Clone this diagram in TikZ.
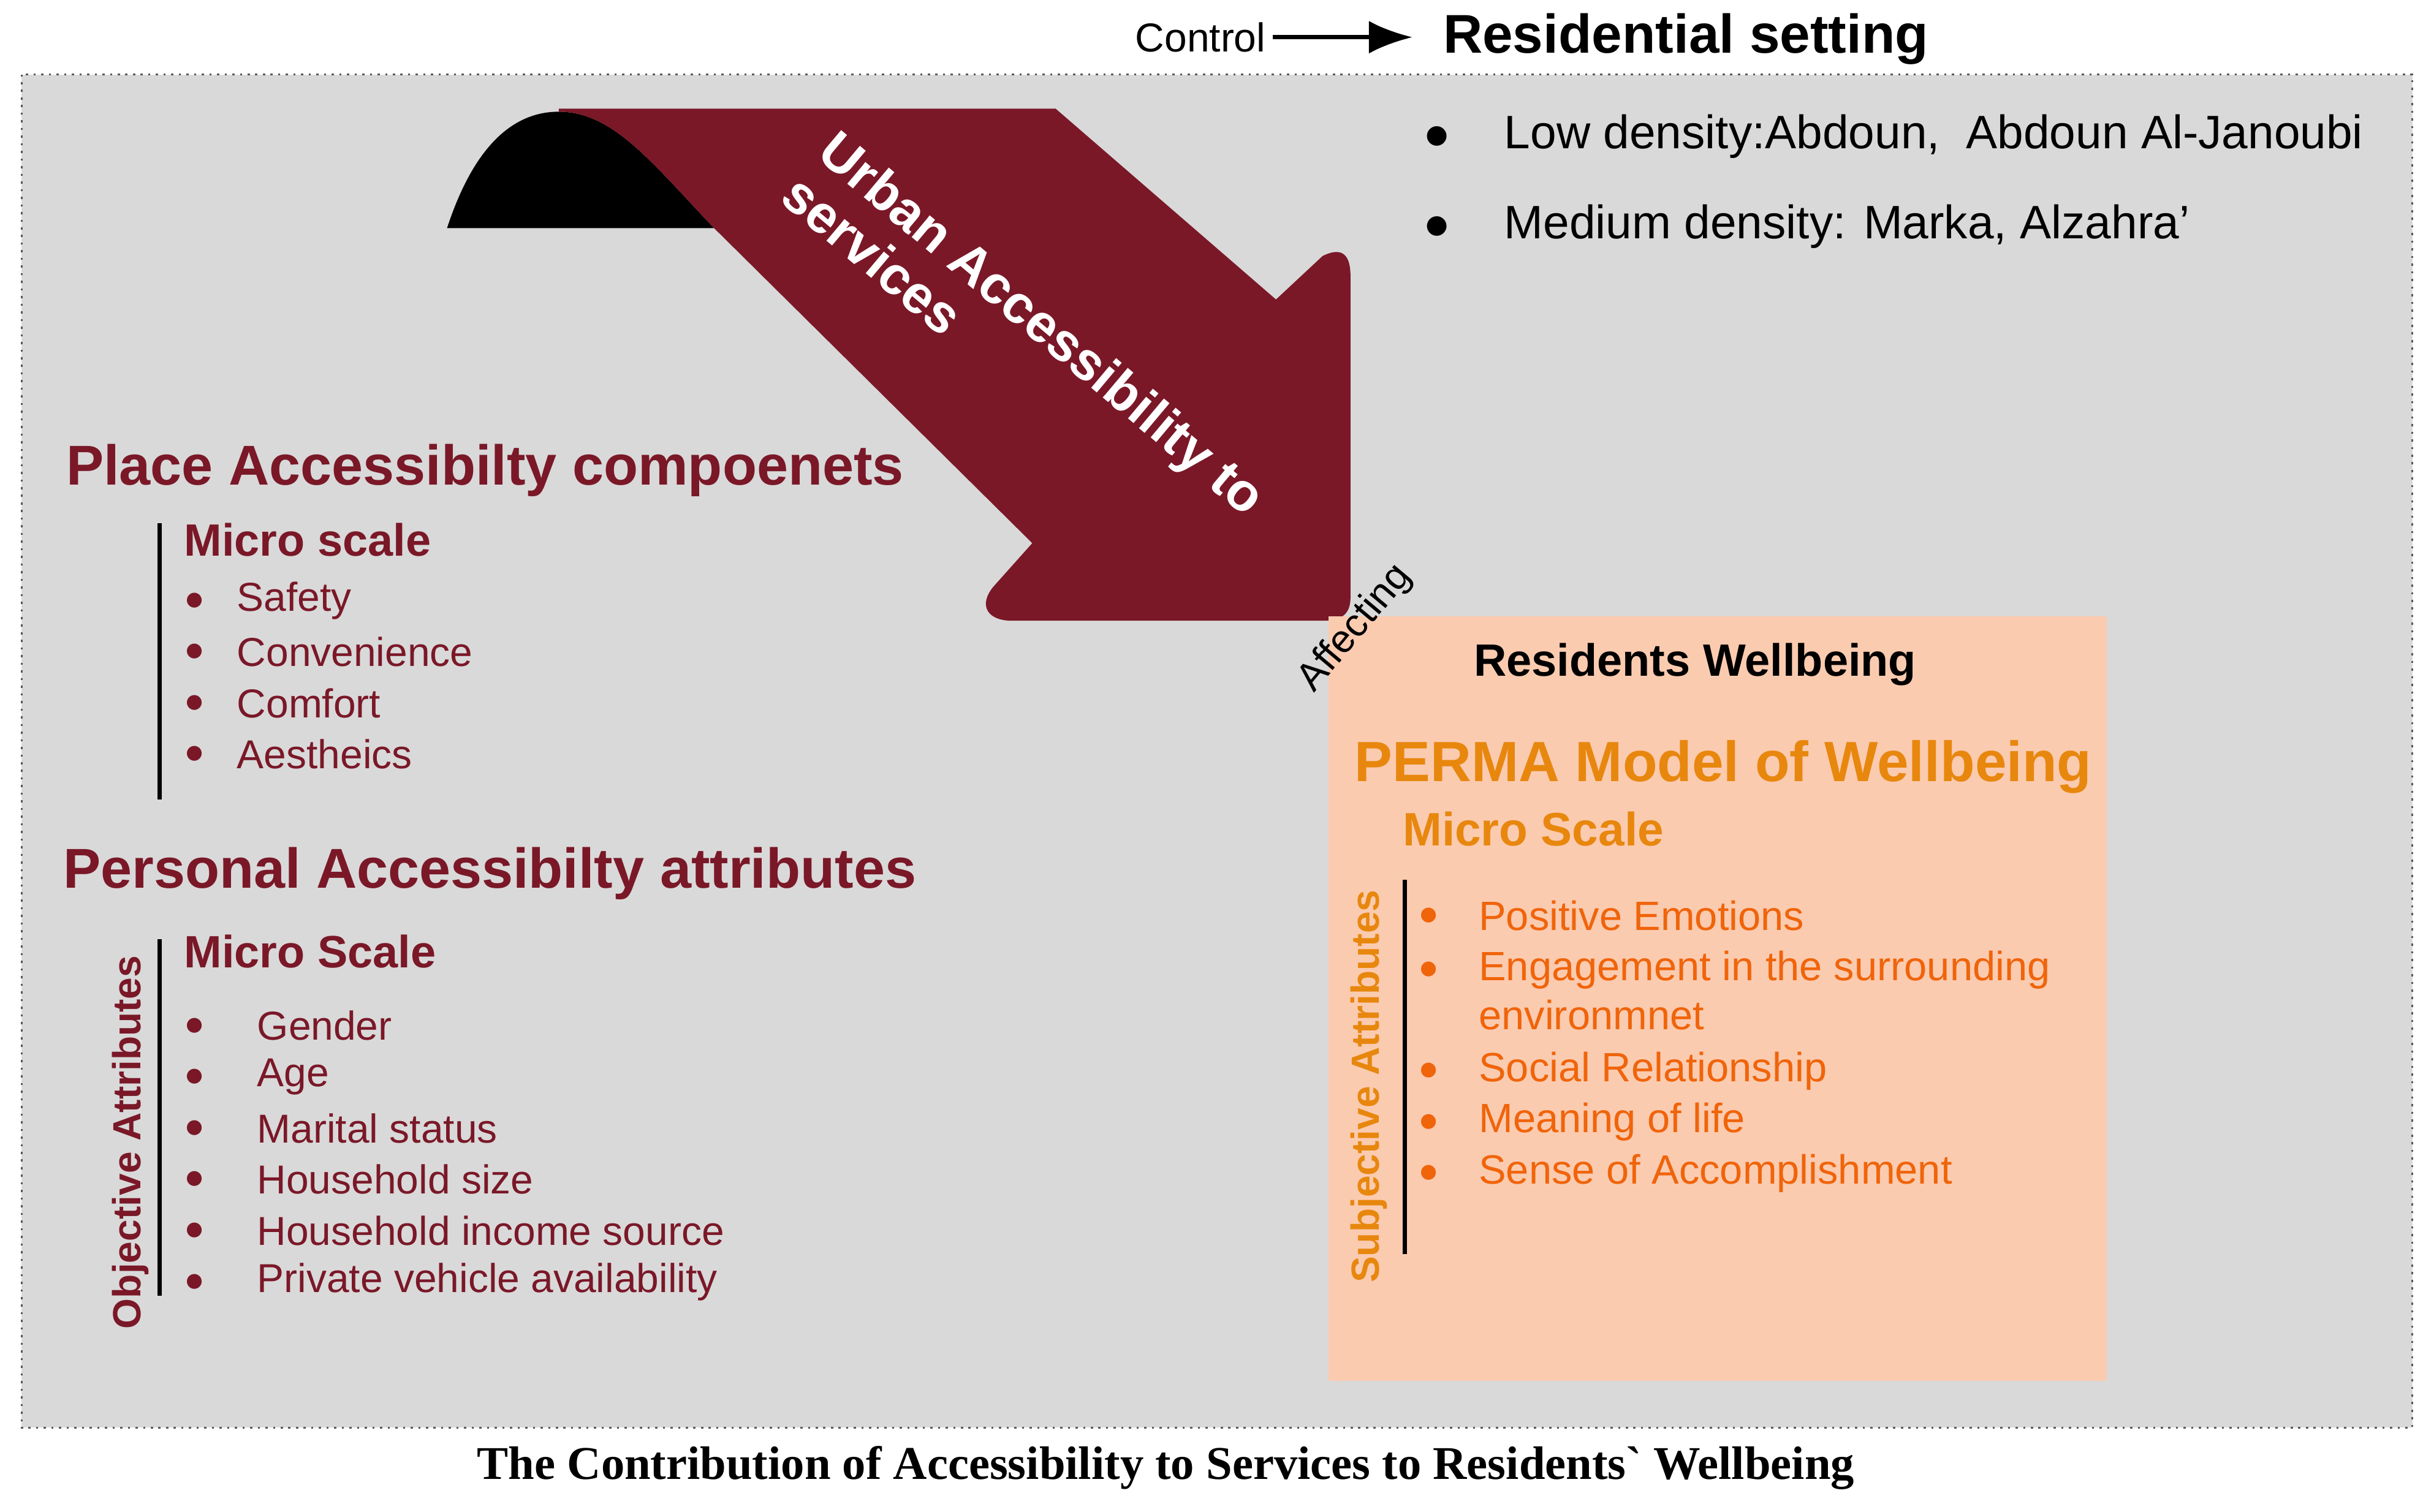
\documentclass[tikz,border=0pt]{standalone}
\usepackage{fontspec}
\setmainfont{Liberation Sans}
\newfontfamily\titlefont{Liberation Serif}
\usetikzlibrary{positioning,arrows.meta}
\definecolor{maroon}{HTML}{7A1828}
\definecolor{panel}{HTML}{D9D9D9}
\definecolor{peach}{HTML}{FBCBB0}
\definecolor{perma}{HTML}{E8870E}
\definecolor{itemorange}{HTML}{F0640A}
\begin{document}
\begin{tikzpicture}[x=0.01cm,y=-0.01cm,
   head/.style = {font=\fontsize{10.3}{11}\selectfont\bfseries, text=maroon, anchor=west, inner sep=0},
   sub/.style  = {font=\fontsize{8.3}{9}\selectfont\bfseries, text=maroon, anchor=west, inner sep=0},
   item/.style = {font=\fontsize{7.4}{8.5}\selectfont, text=maroon, anchor=west, inner sep=0},
   dot/.style = {font=\fontsize{6}{7}\selectfont, anchor=west, inner sep=0},
   pitem/.style = {font=\fontsize{7.5}{9}\selectfont, text=itemorange, anchor=west, inner sep=0, align=left},
   side/.style = {font=\fontsize{7.2}{8}\selectfont\bfseries, rotate=90, inner sep=0}]

   \useasboundingbox (0,0) rectangle (1568,974);
   \fill[white] (0,0) rectangle (1568,974);

   % outer panel
   \draw[densely dotted, gray!70!black, fill=panel] (14,48) rectangle (1554,920);

   % control line
   \node[font=\fontsize{7.4}{8}\selectfont, anchor=east, inner sep=0] (ctrl) at (816,24) {Control};
   \node[font=\fontsize{10}{11}\selectfont\bfseries, anchor=west, inner sep=0] (res) at (929,25) {Residential setting};
   \draw[-{Latex[length=8]}, thick] (ctrl.east) ++(4,0) coordinate (c0) -- (910,24) coordinate (c1);

   \node[font=\fontsize{8.6}{9}\selectfont, anchor=west, inner sep=0] (low) at (917,88) {$\bullet$\hspace{10pt}Low density:Abdoun,\ \ Abdoun Al-Janoubi};
   \node[font=\fontsize{8.6}{9}\selectfont, anchor=west, inner sep=0] (med) at (917,146) {$\bullet$\hspace{10pt}Medium density: Marka, Alzahra'};

   % bent arrow
   \fill[black] (288,147) .. controls (305,95) and (330,72) .. (360,72)
      .. controls (395,72) and (420,105) .. (460,147) -- cycle;
   \fill[maroon] (360,70) -- (680,70) -- (822,193) -- (852,165)
      .. controls (866,158) and (870,166) .. (870,178) -- (870,385)
      .. controls (870,396) and (864,400) .. (852,400) -- (652,400)
      .. controls (636,400) and (630,390) .. (640,378) -- (665,350)
      -- (460,147) .. controls (420,105) and (395,72) .. (360,72) -- cycle;
   \node[font=\fontsize{9.8}{10.5}\selectfont\bfseries, text=white, rotate=-40, align=left] (uas) at (660,222) {Urban Accessibility to\\services};

   % place accessibility
   \node[head] (place) at (42,303) {Place Accessibilty compoenets};
   \draw[thick] (103,337) -- (103,515);
   \node[sub] (micro1) at (118,348) {Micro scale};
   \foreach \t [count=\i] in {Safety,Convenience,Comfort,Aestheics}{
      \node[dot, text=maroon] (pd\i) at (118,387+33*\i-33) {$\bullet$};
      \node[item] (p\i) at (152,387+33*\i-33) {\t};}

   % personal attributes
   \node[head] (pers) at (40,563) {Personal Accessibilty attributes};
   \draw[thick] (103,605) -- (103,835);
   \node[side, text=maroon] (obj) at (84,736) {Objective Attributes};
   \node[sub] (micro2) at (118,613) {Micro Scale};
   \foreach \t [count=\i] in {Gender,Age,Marital status,Household size,Household income source,Private vehicle availability}{
      \node[dot, text=maroon] (qd\i) at (118,661+33*\i-33) {$\bullet$};
      \node[item] (q\i) at (165,661+33*\i-33) {\t};}

   % wellbeing box
   \fill[peach] (856,397) rectangle (1357,890);
   \node[font=\fontsize{8.3}{9}\selectfont\bfseries, inner sep=0] (rw) at (1092,428) {Residents Wellbeing};
   \node[font=\fontsize{10.4}{11}\selectfont\bfseries, text=perma, anchor=west, inner sep=0] (pm) at (872,494) {PERMA Model of Wellbeing};
   \node[font=\fontsize{8.6}{9}\selectfont\bfseries, text=perma, anchor=west, inner sep=0] (ms) at (903,534) {Micro Scale};
   \draw[thick] (905,567) -- (905,808);
   \node[side, text=perma] (subj) at (882,700) {Subjective Attributes};
   \foreach \y in {590,625,690,723,756}
      \node[dot, text=itemorange] at (913,\y) {$\bullet$};
   \node[pitem] (w1) at (952,590) {Positive Emotions};
   \node[pitem, anchor=north west] (w2) at (952,612) {Engagement in the surrounding\\environmnet};
   \node[pitem] (w3) at (952,690) {Social Relationship};
   \node[pitem] (w4) at (952,723) {Meaning of life};
   \node[pitem] (w5) at (952,756) {Sense of Accomplishment};

   \node[font=\fontsize{7.2}{8}\selectfont, rotate=50] (aff) at (873,405) {Affecting};

   % caption
   \node[font=\fontsize{8.6}{9}\selectfont\bfseries\titlefont] (cap) at (751,946) {The Contribution of Accessibility to Services to Residents` Wellbeing};
\end{tikzpicture}
\end{document}
